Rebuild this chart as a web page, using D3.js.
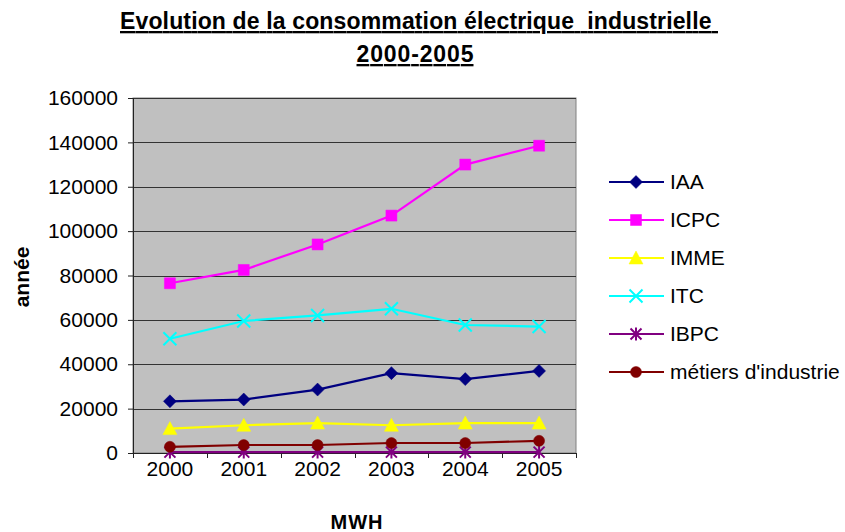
<!DOCTYPE html>
<html>
<head>
<meta charset="utf-8">
<script src="https://cdn.jsdelivr.net/npm/d3@7"></script>
<style>
  body { margin: 0; background: #fff; }
  svg { display: block; font-family: 'Liberation Sans', Arial, sans-serif; }
  .pre { white-space: pre; }
</style>
</head>
<body>
<script>
(function() {
  'use strict';

  const years = ['2000', '2001', '2002', '2003', '2004', '2005'];
  const yTicks = [0, 20000, 40000, 60000, 80000, 100000, 120000, 140000, 160000];
  const seriesNames = ['IAA', 'ICPC', 'IMME', 'ITC', 'IBPC', "métiers d'industrie"];
  const iaa = [23300, 24100, 28600, 36000, 33300, 37000];
  const icpc = [76500, 82500, 94000, 107000, 130000, 138500];
  const imme = [11000, 12500, 13500, 12500, 13500, 13500];
  const itc = [51500, 59500, 62000, 65000, 57700, 57000];
  const ibpc = [400, 400, 400, 400, 400, 400];
  const metiers = [2800, 3600, 3600, 4500, 4500, 5500];

  const w = 845;
  const h = 532;
  const left = 133, right = 576, top = 98, bottom = 453;

  const series = [
    { name: seriesNames[0], values: iaa, color: '#000080', marker: 'diamond' },
    { name: seriesNames[1], values: icpc, color: '#ff00ff', marker: 'square' },
    { name: seriesNames[2], values: imme, color: '#ffff00', marker: 'triangle' },
    { name: seriesNames[3], values: itc, color: '#00ffff', marker: 'cross' },
    { name: seriesNames[4], values: ibpc, color: '#800080', marker: 'star' },
    { name: seriesNames[5], values: metiers, color: '#800000', marker: 'circle' }
  ];

  const xScale = d3.scaleBand().domain(years).range([left, right]);
  const yScale = d3.scaleLinear().domain([0, 160000]).range([bottom, top]);
  const cx = (d) => xScale(d) + xScale.bandwidth() / 2;

  const svg = d3.select('body').append('svg').attr('width', w).attr('height', h);

  // title
  const title = svg.append('g').attr('font-weight', 'bold').attr('font-size', 23)
    .attr('fill', '#000');
  title.append('text').attr('class', 'pre').attr('x', 120).attr('y', 29)
    .attr('text-decoration', 'underline')
    .attr('textLength', 598).attr('lengthAdjust', 'spacing')
    .text('Evolution de la consommation électrique  industrielle ');
  title.append('text').attr('x', 415).attr('y', 62)
    .attr('text-anchor', 'middle')
    .attr('text-decoration', 'underline')
    .attr('textLength', 117).attr('lengthAdjust', 'spacing')
    .text('2000-2005');

  // plot area
  svg.append('rect')
    .attr('x', left).attr('y', top)
    .attr('width', right - left).attr('height', bottom - top)
    .attr('fill', '#c0c0c0').attr('stroke', '#808080').attr('stroke-width', 1);

  // gridlines
  svg.append('g').selectAll('line')
    .data(yTicks.filter((d) => d > 0))
    .enter().append('line')
    .attr('x1', left).attr('x2', right)
    .attr('y1', (d) => Math.round(yScale(d)) + 0.5)
    .attr('y2', (d) => Math.round(yScale(d)) + 0.5)
    .attr('stroke', '#333').attr('stroke-width', 1);

  // y axis
  const yAxis = d3.axisLeft(yScale).tickValues(yTicks).tickSize(5).tickPadding(10)
    .tickFormat(d3.format('d'));
  const gy = svg.append('g').attr('transform', 'translate(' + left + ',0)').call(yAxis);
  gy.select('.domain').attr('stroke', '#222');
  gy.selectAll('line').attr('stroke', '#222');
  gy.selectAll('text').attr('font-size', 21).attr('fill', '#000')
    .attr('font-family', "'Liberation Sans', Arial, sans-serif");

  // x axis: ticks between categories
  const xAxis = d3.axisBottom(xScale).tickSize(0).tickPadding(8);
  const gx = svg.append('g').attr('transform', 'translate(0,' + bottom + ')').call(xAxis);
  gx.select('.domain').remove();
  gx.selectAll('text').attr('font-size', 21).attr('fill', '#000')
    .attr('font-family', "'Liberation Sans', Arial, sans-serif");
  gx.append('line').attr('x1', left).attr('x2', right).attr('y1', 0.5).attr('y2', 0.5)
    .attr('stroke', '#222');
  gx.selectAll('.sep')
    .data(years.concat(['end']))
    .enter().append('line')
    .attr('class', 'sep')
    .attr('x1', (d, i) => Math.round(left + i * xScale.bandwidth()) + 0.5)
    .attr('x2', (d, i) => Math.round(left + i * xScale.bandwidth()) + 0.5)
    .attr('y1', 0).attr('y2', 5)
    .attr('stroke', '#222');

  // axis titles
  svg.append('text')
    .attr('transform', 'translate(29,277) rotate(-90)')
    .attr('text-anchor', 'middle').attr('font-weight', 'bold').attr('font-size', 21)
    .text('année');
  svg.append('text')
    .attr('x', 357).attr('y', 529)
    .attr('text-anchor', 'middle').attr('font-weight', 'bold').attr('font-size', 20)
    .attr('letter-spacing', 1)
    .text('MWH');

  function markerPath(type) {
    switch (type) {
    case 'diamond': return 'M0,-6.5L6.5,0L0,6.5L-6.5,0Z';
    case 'square': return 'M-5.5,-5.5H5.5V5.5H-5.5Z';
    case 'triangle': return 'M0,-7L7,6H-7Z';
    case 'circle': return d3.symbol(d3.symbolCircle, 95)();
    case 'cross': return 'M-6.5,-6.5L6.5,6.5M6.5,-6.5L-6.5,6.5';
    case 'star': return 'M-5.5,-5.5L5.5,5.5M5.5,-5.5L-5.5,5.5M0,-6.5V6.5';
    }
  }
  const stroked = (t) => t === 'cross' || t === 'star';

  const line = d3.line().x((d, i) => cx(years[i])).y((d) => yScale(d));

  series.forEach(function(s) {
    const g = svg.append('g');
    g.append('path').datum(s.values)
      .attr('d', line).attr('fill', 'none')
      .attr('stroke', s.color).attr('stroke-width', 2.2);
    g.selectAll('path.m').data(s.values).enter().append('path')
      .attr('class', 'm')
      .attr('transform', (d, i) => 'translate(' + cx(years[i]) + ',' + yScale(d) + ')')
      .attr('d', markerPath(s.marker))
      .attr('fill', stroked(s.marker) ? 'none' : s.color)
      .attr('stroke', s.color)
      .attr('stroke-width', stroked(s.marker) ? 2 : 0.5);
  });

  // legend
  const legend = svg.append('g').attr('transform', 'translate(609,182)');
  const rows = legend.selectAll('g').data(series).enter().append('g')
    .attr('transform', (d, i) => 'translate(0,' + (i * 38) + ')');
  rows.append('line').attr('x1', 0).attr('x2', 55).attr('y1', 0).attr('y2', 0)
    .attr('stroke', (d) => d.color).attr('stroke-width', 2.2);
  rows.append('path').attr('transform', 'translate(27,0)')
    .attr('d', (d) => markerPath(d.marker))
    .attr('fill', (d) => stroked(d.marker) ? 'none' : d.color)
    .attr('stroke', (d) => d.color)
    .attr('stroke-width', (d) => stroked(d.marker) ? 2 : 0.5);
  rows.append('text').attr('x', 61).attr('y', 7).attr('font-size', 21)
    .text((d) => d.name);
}());
</script>
</body>
</html>
